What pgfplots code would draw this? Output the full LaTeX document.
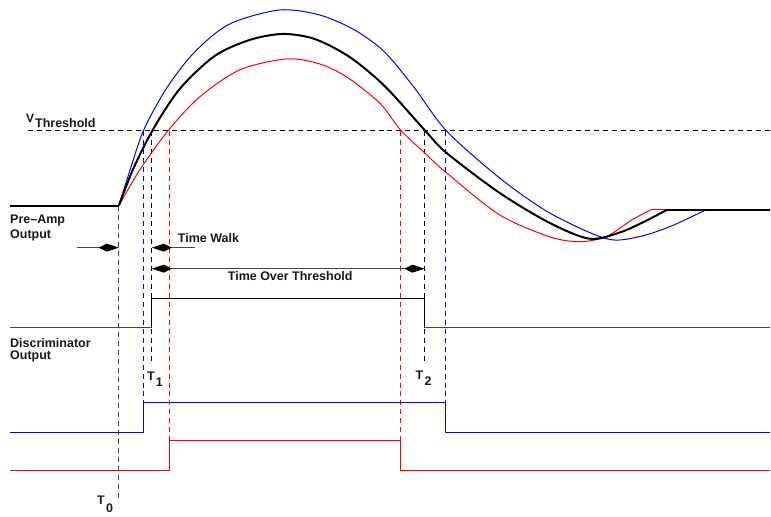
\documentclass[border=0pt]{standalone}
\usepackage{pgfplots}
\pgfplotsset{compat=1.18}
\usepackage{fontspec}
\setmainfont{Liberation Sans}
\usetikzlibrary{arrows.meta}
\definecolor{dgray}{RGB}{70,70,70}
\tikzset{kt/.tip={Kite[length=20pt,width=8pt,inset=8pt,fill=black,color=black]}}
\begin{document}
\begin{tikzpicture}
\begin{axis}[hide axis, scale only axis, width=771pt, height=517pt,
  xmin=0, xmax=771, ymin=0, ymax=517, y dir=reverse, clip=false,
  every axis plot/.append style={line join=round}]
\path (rel axis cs:0,0) rectangle (rel axis cs:1,1);
% threshold
\addplot[black, line width=0.9pt, dash pattern=on 5pt off 4pt] coordinates {(28,131) (771,131)};
% vertical dashed
\addplot[dgray, line width=0.9pt, dash pattern=on 5pt off 4pt] coordinates {(119,206) (119,500)};
\addplot[blue, line width=0.9pt, dash pattern=on 5pt off 4pt] coordinates {(144,131) (144,403)};
\addplot[blue, line width=0.9pt, dash pattern=on 5pt off 4pt] coordinates {(446,131) (446,403)};
\addplot[black, line width=0.9pt, dash pattern=on 5pt off 4pt] coordinates {(152,131) (152,365)};
\addplot[black, line width=0.9pt, dash pattern=on 5pt off 4pt] coordinates {(425,131) (425,363)};
\addplot[red, line width=0.9pt, dash pattern=on 5pt off 4pt] coordinates {(170,131) (170,441)};
\addplot[red, line width=0.9pt, dash pattern=on 5pt off 4pt] coordinates {(401,131) (401,441)};
% pulses
\addplot[blue, line width=1pt, smooth] coordinates {(119,206)(130,171)(144,130)(167,88)(195,52)(230,24)(280,10)(320,15)(355,30)(385,52)(415,88)(447,131)(500,178)(550,213)(607,239)(640,237)(673,226)(707,210)};
\addplot[red, line width=1pt, smooth] coordinates {(119,206)(140,170)(169,130)(200,97)(240,70)(287,59)(320,64)(347,77)(380,103)(401,130)(425,153)(447,173)(500,215)(550,237)(580,242)(607,237)(633,220)(652,210)};
\addplot[red, line width=1pt] coordinates {(652,210)(668,210)};
\addplot[black, line width=2pt, smooth] coordinates {(119,206)(133,170)(153,130)(180,89)(215,56)(250,40)(283,34)(315,39)(350,57)(385,86)(425,130)(447,153)(500,193)(550,223)(590,239)(620,233)(645,222)(668,210)};
\addplot[black, line width=2pt] coordinates {(668,210)(771,210)};
\addplot[black, line width=2pt] coordinates {(10,206)(119,206)};
% discriminator outputs
\addplot[dgray, line width=1pt] coordinates {(10,328)(152,328)};
\addplot[dgray, line width=1pt] coordinates {(425,328)(771,328)};
\addplot[black, line width=1pt] coordinates {(152,328)(152,299)(425,299)(425,328)};
\addplot[blue, line width=1pt] coordinates {(10,433)(144,433)(144,403)(446,403)(446,433)(771,433)};
\addplot[red, line width=1pt] coordinates {(10,471)(170,471)(170,441)(401,441)(401,471)(771,471)};
% arrows
\draw[dgray, line width=1pt, -{kt}] (axis cs:77,248) -- (axis cs:119,248);
\draw[dgray, line width=1pt, -{kt}] (axis cs:195,248) -- (axis cs:152,248);
\draw[dgray, line width=1pt, {kt}-{kt}] (axis cs:152,269) -- (axis cs:425,269);
% labels
\begin{scope}[every node/.style={inner sep=0pt, font=\fontsize{12.5}{15}\selectfont\bfseries, text=black!90}]
\node[anchor=base west] at (axis cs:10,224) {Pre–Amp};
\node[anchor=base west] at (axis cs:10,239) {Output};
\node[anchor=base west] at (axis cs:10,348) {Discriminator};
\node[anchor=base west] at (axis cs:10,360) {Output};
\node[anchor=base west] at (axis cs:178,243) {Time Walk};
\node[anchor=base west] at (axis cs:228,281) {Time Over Threshold};
\node[anchor=base west, font=\fontsize{12}{14}\selectfont\bfseries] at (axis cs:26,123) {V};
\node[anchor=base west] at (axis cs:35,128) {Threshold};
\node[anchor=base west] at (axis cs:147,381) {T};
\node[anchor=base west] at (axis cs:156,387) {1};
\node[anchor=base west] at (axis cs:416,380) {T};
\node[anchor=base west] at (axis cs:425,386) {2};
\node[anchor=base west] at (axis cs:97,505) {T};
\node[anchor=base west] at (axis cs:106,513) {0};
\end{scope}
\end{axis}
\end{tikzpicture}
\end{document}
